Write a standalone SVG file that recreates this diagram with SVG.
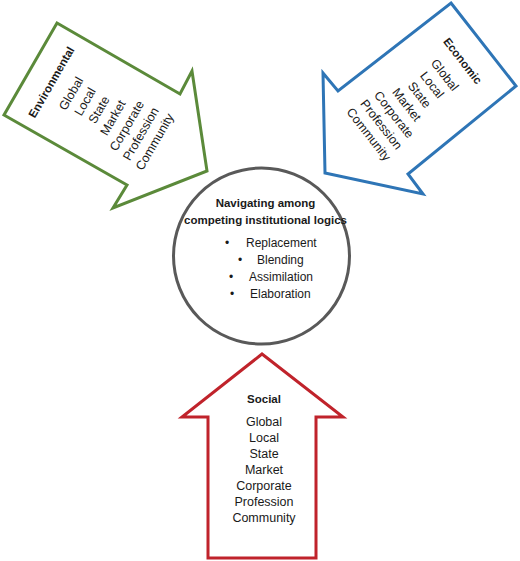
<svg xmlns="http://www.w3.org/2000/svg" width="520" height="561" viewBox="0 0 520 561">
<style>
.shape{fill:#ffffff;stroke-width:3;stroke-linejoin:miter}
.h{font-family:"Liberation Sans",Arial,sans-serif;font-weight:bold;font-size:11.5px;fill:#1a1a1a;text-anchor:middle}
.t{font-family:"Liberation Sans",Arial,sans-serif;font-size:12.5px;fill:#1a1a1a;text-anchor:middle}
.b{font-family:"Liberation Sans",Arial,sans-serif;font-size:12px;fill:#1a1a1a}
</style>
<rect width="520" height="561" fill="#ffffff"/>
<g id="connectors"></g>
<g id="environmental">
<polygon class="shape" stroke="#5b8a3a" points="57,23 180,94 192,71 207,171 113,208 127,185 4,115"/>
<g transform="translate(54.8,84.2) rotate(-60)">
<text class="h" x="0" y="0">Environmental</text>
<text class="t" x="0" y="23">Global</text>
<text class="t" x="0" y="39.1">Local</text>
<text class="t" x="0" y="55.2">State</text>
<text class="t" x="0" y="71.3">Market</text>
<text class="t" x="0" y="87.4">Corporate</text>
<text class="t" x="0" y="103.5">Profession</text>
<text class="t" x="0" y="119.6">Community</text>
</g>
</g>
<g id="economic">
<polygon class="shape" stroke="#2e75b6" points="451,3 516,86 408,174 423,194 325,173 323,73 338,91"/>
<g transform="translate(459.6,63.4) rotate(52)">
<text class="h" x="0" y="0">Economic</text>
<text class="t" x="0" y="23">Global</text>
<text class="t" x="0" y="39.1">Local</text>
<text class="t" x="0" y="55.2">State</text>
<text class="t" x="0" y="71.3">Market</text>
<text class="t" x="0" y="87.4">Corporate</text>
<text class="t" x="0" y="103.5">Profession</text>
<text class="t" x="0" y="119.6">Community</text>
</g>
</g>
<g id="center">
<circle cx="261.5" cy="256" r="88" fill="#ffffff" stroke="#595959" stroke-width="3"/>
<text class="h" x="265.5" y="206.5">Navigating among</text>
<text class="h" x="265.5" y="224">competing institutional logics</text>
<text class="b" x="225" y="247.3">•</text><text class="b" x="246" y="247.3">Replacement</text>
<text class="b" x="238" y="264">•</text><text class="b" x="257" y="264">Blending</text>
<text class="b" x="229" y="281">•</text><text class="b" x="249" y="281">Assimilation</text>
<text class="b" x="230" y="297.7">•</text><text class="b" x="250" y="297.7">Elaboration</text>
</g>
<g id="social">
<polygon class="shape" stroke="#c0232b" points="262,354 343,417 316,417 316,558 208,558 208,417 182,417"/>
<text class="h" x="264" y="402.5">Social</text>
<text class="t" x="264" y="425.5">Global</text>
<text class="t" x="264" y="441.5">Local</text>
<text class="t" x="264" y="457.5">State</text>
<text class="t" x="264" y="473.5">Market</text>
<text class="t" x="264" y="489.5">Corporate</text>
<text class="t" x="264" y="505.5">Profession</text>
<text class="t" x="264" y="521.5">Community</text>
</g>
</svg>
